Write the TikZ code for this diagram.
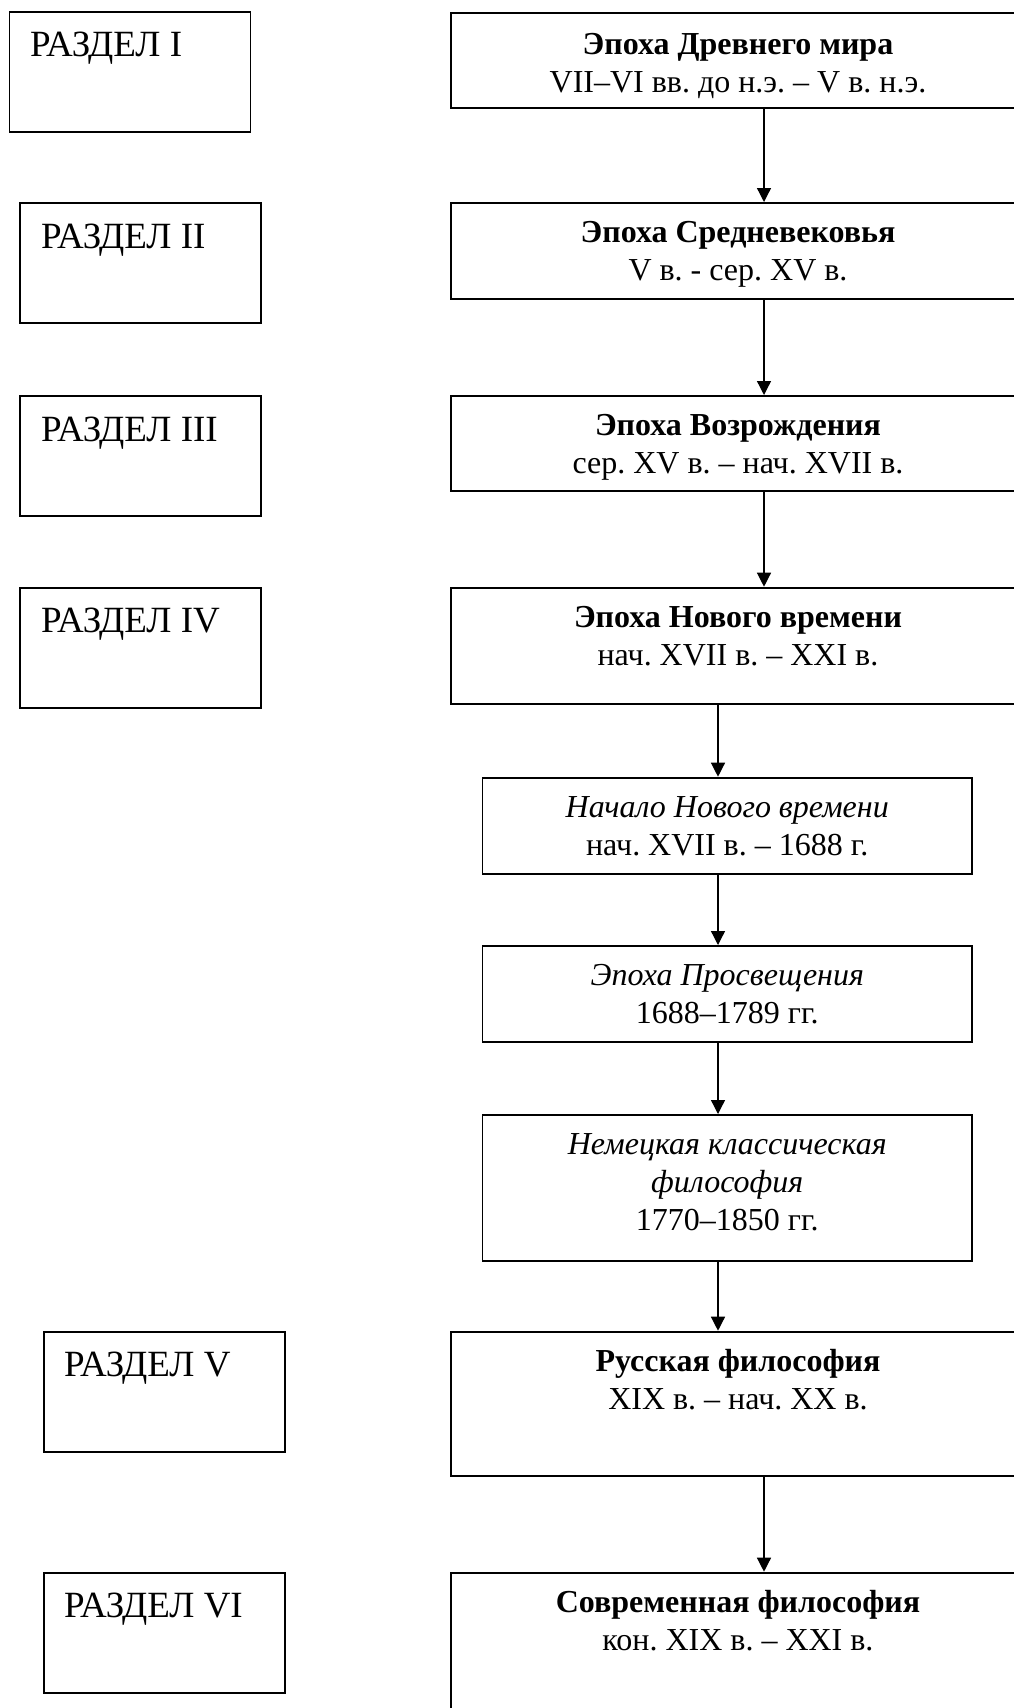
\documentclass[tikz,border=0pt]{standalone}
\usepackage{fontspec}
\setmainfont{Liberation Serif}
\usetikzlibrary{arrows.meta}
\frenchspacing
\tikzset{
  secbox/.style={draw, line width=1.8pt, minimum width=241pt, minimum height=120pt, inner sep=0pt, anchor=north west},
  mainbox/.style={draw, line width=1.8pt, minimum width=574pt, inner sep=0pt, anchor=north},
  subbox/.style={draw, line width=1.8pt, minimum width=489.5pt, inner sep=0pt, anchor=north},
  sectxt/.style={anchor=base west, inner sep=0pt, font=\fontsize{37}{42}\selectfont},
  boxtxt/.style={anchor=north, inner sep=0pt, align=center, font=\fontsize{32}{38}\selectfont\frenchspacing},
  arr/.style={line width=1.3pt, -{Triangle[length=14pt,width=14pt]}},
}
\begin{document}
\begin{tikzpicture}[x=1pt,y=-1pt]
\useasboundingbox (0,0) rectangle (1014,1708);
\clip (0,0) rectangle (1014,1708);

% section boxes
\node[secbox] (s1) at (8.5,11) {};
\node[secbox] (s2) at (19.4,202) {};
\node[secbox] (s3) at (19.4,395) {};
\node[secbox] (s4) at (19.4,586.7) {};
\node[secbox] (s5) at (42.7,1330.7) {};
\node[secbox] (s6) at (42.7,1571.7) {};

\node[sectxt] (t1) at (30,56.7) {РАЗДЕЛ I};
\node[sectxt] (t2) at (41,248) {РАЗДЕЛ II};
\node[sectxt] (t3) at (41,441) {РАЗДЕЛ III};
\node[sectxt] (t4) at (41,632.7) {РАЗДЕЛ IV};
\node[sectxt] (t5) at (64,1376.7) {РАЗДЕЛ V};
\node[sectxt] (t6) at (64,1617.7) {РАЗДЕЛ VI};

% main boxes
\node[mainbox, minimum height=94.4pt] (b1) at (738,12.3) {};
\node[mainbox, minimum height=95.7pt] (b2) at (738,202) {};
\node[mainbox, minimum height=95pt] (b3) at (738,395) {};
\node[mainbox, minimum height=116pt] (b4) at (738,586.7) {};
\node[subbox, minimum height=96.3pt] (c1) at (727.25,776.7) {};
\node[subbox, minimum height=96pt] (c2) at (727.25,945) {};
\node[subbox, minimum height=146pt] (c3) at (727.25,1114) {};
\node[mainbox, minimum height=144.3pt] (b5) at (738,1330.7) {};
\node[mainbox, minimum height=144pt] (b6) at (738,1571.7) {};

% texts
\node[boxtxt] (x1) at (738,27.3) {\strut\textbf{Эпоха Древнего мира}\\VII–VI вв. до н.э. – V в. н.э.};
\node[boxtxt] (x2) at (738,216) {\strut\textbf{Эпоха Средневековья}\\V в. - сер. XV в.};
\node[boxtxt] (x3) at (738,409) {\strut\textbf{Эпоха Возрождения}\\сер. XV в. – нач. XVII в.};
\node[boxtxt] (x4) at (738,600.7) {\strut\textbf{Эпоха Нового времени}\\нач. XVII в. – XXI в.};
\node[boxtxt] (y1) at (727.25,790.7) {\strut\textit{Начало Нового времени}\\нач. XVII в. – 1688 г.};
\node[boxtxt] (y2) at (727.25,959) {\strut\textit{Эпоха Просвещения}\\1688–1789 гг.};
\node[boxtxt] (y3) at (727.25,1128) {\strut\textit{Немецкая классическая}\\\textit{философия}\\1770–1850 гг.};
\node[boxtxt] (x5) at (738,1344.7) {\strut\textbf{Русская философия}\\XIX в. – нач. XX в.};
\node[boxtxt] (x6) at (738,1585.7) {\strut\textbf{Современная философия}\\кон. XIX в. – XXI в.};

% arrows
\draw[arr] ([xshift=26pt]b1.south) -- ([xshift=26pt]b2.north);
\draw[arr] ([xshift=26pt]b2.south) -- ([xshift=26pt]b3.north);
\draw[arr] ([xshift=26pt]b3.south) -- ([xshift=26pt]b4.north);
\draw[arr] ([xshift=-20pt]b4.south) -- ([xshift=-9.25pt]c1.north);
\draw[arr] ([xshift=-9.25pt]c1.south) -- ([xshift=-9.25pt]c2.north);
\draw[arr] ([xshift=-9.25pt]c2.south) -- ([xshift=-9.25pt]c3.north);
\draw[arr] ([xshift=-9.25pt]c3.south) -- ([xshift=-20pt]b5.north);
\draw[arr] ([xshift=26pt]b5.south) -- ([xshift=26pt]b6.north);
\end{tikzpicture}
\end{document}
